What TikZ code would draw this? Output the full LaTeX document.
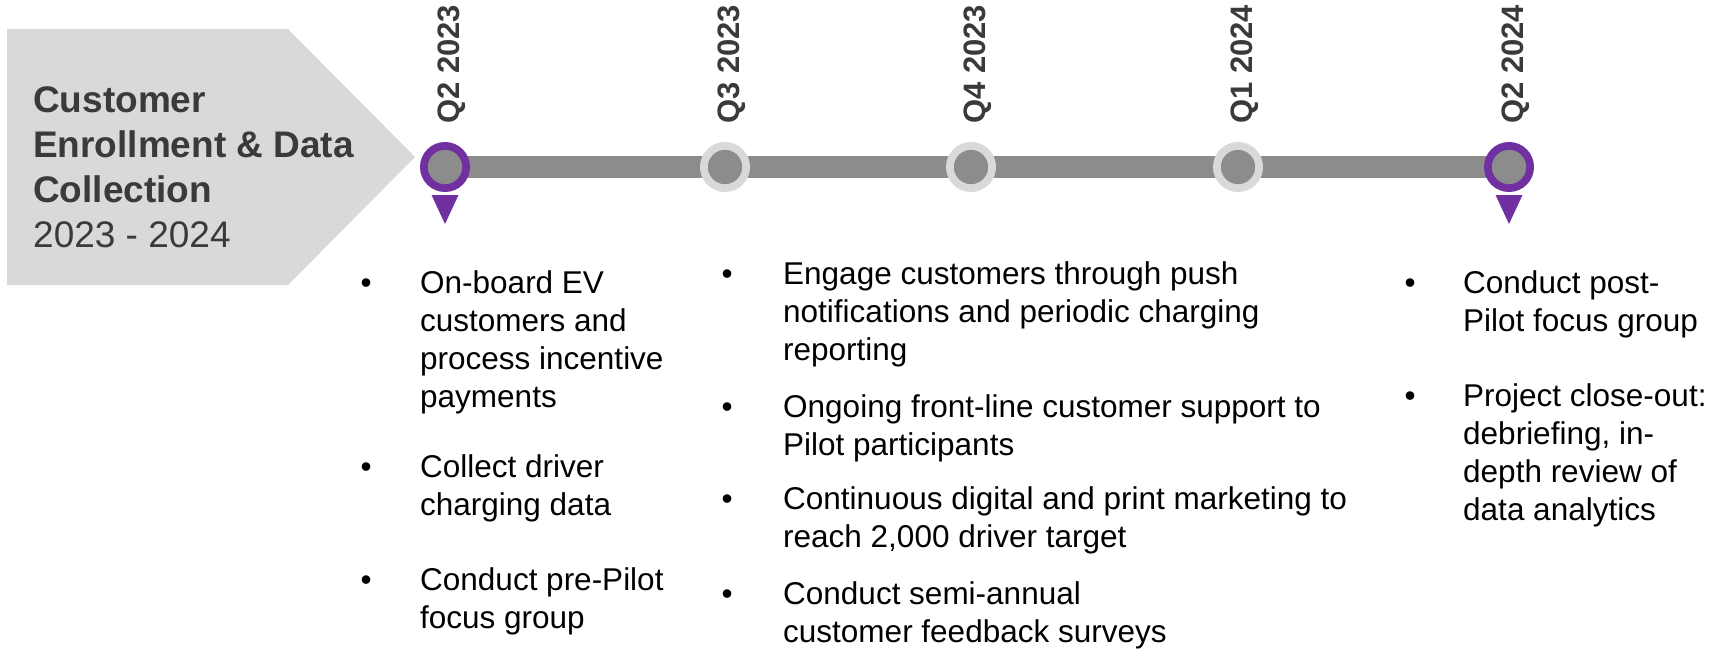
\documentclass[tikz,border=0pt]{standalone}
\usepackage{fontspec}
\setmainfont{Liberation Sans}

\definecolor{pilotpurple}{HTML}{7030A0}
\definecolor{ringgray}{HTML}{D9D9D9}
\definecolor{bargray}{HTML}{8C8C8C}
\definecolor{inkgray}{HTML}{3A3A3A}

\tikzset{
	milestone/.style={circle, minimum size=42.3pt, inner sep=0pt, fill=bargray, draw=#1, line width=7.7pt},
	quarter/.style={rotate=90, anchor=base west, inner sep=0pt, text=inkgray, font=\fontsize{31}{37}\selectfont\bfseries},
	task/.style={anchor=north west, align=left, inner sep=0pt, font=\fontsize{31.5}{38.2}\selectfont},
	dot/.style={anchor=base west, inner sep=0pt, font=\fontsize{31.5}{38.2}\selectfont},
}

\begin{document}
\begin{tikzpicture}[x=1pt, y=-1pt]
	\useasboundingbox (0,0) rectangle (1723,650);

	% phase banner
	\fill[ringgray] (7,29) -- (288,29) -- (415,157) -- (288,285) -- (7,285) -- cycle;
	\node[anchor=north west, align=left, inner sep=0pt, text=inkgray, font=\fontsize{37}{45}\selectfont] (phase) at (33,80.5)
		{\strut\textbf{Customer}\\\textbf{Enrollment \& Data}\\\textbf{Collection}\\2023 - 2024};

	% timeline bar
	\foreach \n/\x in {1/445, 2/725, 3/971, 4/1238, 5/1509}
	{
		\coordinate (t\n) at (\x,167);
	}
	\draw[bargray, line width=22pt] (t1) -- (t5);

	\foreach \n/\x/\lab/\col in {1/445/Q2 2023/pilotpurple, 2/725/Q3 2023/ringgray, 3/971/Q4 2023/ringgray, 4/1238/Q1 2024/ringgray, 5/1509/Q2 2024/pilotpurple}
	{
		\node[milestone=\col] (m\n) at (t\n) {};
		\node[quarter] (q\n) at (\x+14,124) {\lab};
	}

	% start and end markers
	\fill[pilotpurple] (t1) ++(-13.5,28) -- ++(27,0) -- ++(-13.5,29) -- cycle;
	\fill[pilotpurple] (t5) ++(-13.5,28) -- ++(27,0) -- ++(-13.5,29) -- cycle;

	% tasks, left column
	\node[dot] at (360.5,293) {\textbullet};
	\node[task] (l1) at (420,266.3) {\strut On-board EV\\customers and\\process incentive\\payments};
	\node[dot] at (360.5,477) {\textbullet};
	\node[task] (l2) at (420,450.3) {\strut Collect driver\\charging data};
	\node[dot] at (360.5,590) {\textbullet};
	\node[task] (l3) at (420,563.3) {\strut Conduct pre-Pilot\\focus group};

	% tasks, middle column
	\node[dot] at (721.5,284) {\textbullet};
	\node[task] (c1) at (783,257.3) {\strut Engage customers through push\\notifications and periodic charging\\reporting};
	\node[dot] at (721.5,417) {\textbullet};
	\node[task] (c2) at (783,390.3) {\strut Ongoing front-line customer support to\\Pilot participants};
	\node[dot] at (721.5,509) {\textbullet};
	\node[task] (c3) at (783,482.3) {\strut Continuous digital and print marketing to\\reach 2,000 driver target};
	\node[dot] at (721.5,604) {\textbullet};
	\node[task] (c4) at (783,577.3) {\strut Conduct semi-annual\\customer feedback surveys};

	% tasks, right column
	\node[dot] at (1404.5,293) {\textbullet};
	\node[task] (r1) at (1463,266.3) {\strut Conduct post-\\Pilot focus group};
	\node[dot] at (1404.5,406) {\textbullet};
	\node[task] (r2) at (1463,379.3) {\strut Project close-out:\\debriefing, in-\\depth review of\\data analytics};
\end{tikzpicture}
\end{document}
